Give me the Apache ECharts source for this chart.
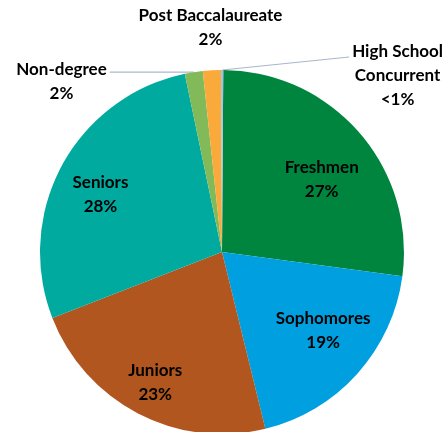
<!DOCTYPE html>
<html><head><meta charset="utf-8">
<script src="https://cdn.jsdelivr.net/npm/echarts@6/dist/echarts.min.js"></script>
<style>html,body{margin:0;padding:0;background:#fff}#c{width:445px;height:432px}</style>
</head><body><div id="c"></div>
<script>
const categories = ['Freshmen','Sophomores','Juniors','Seniors','Non-degree','Post Baccalaureate','High School Concurrent'];
const labelNames = ['Freshmen','Sophomores','Juniors','Seniors','Non-degree','Post Baccalaureate','High School\nConcurrent'];
const values = [27.1, 19.1, 23.0, 27.7, 1.6, 1.6, 0.2];
const colors = ['#00853F','#009FDF','#B0561E','#00AA9F','#82BA5A','#F9AA3B','#9DC3E6'];
const insideLabel = [true, true, true, true, false, false, false];

const FONT = 'Lato';
function pctText(p) { return p.percent < 1 ? '<1%' : Math.round(p.percent) + '%'; }
function fmt(p) { return labelNames[p.dataIndex] + '\n' + pctText(p); }

const textStyle = { fontFamily: FONT, fontWeight: 'bold', fontSize: 17, color: '#000', lineHeight: 24 };

// label placement tweaks (layout only)
const innerShift = { 0: [-3, 17], 1: [0, -12], 2: [-4, 10], 3: [-2, 7] };
const outerCfg = {
  4: { length: 0, length2: 84, spacer: 18, showLine: true },
  5: { length: 43, length2: 0, spacer: 0, showLine: false },
  6: { length: 13, length2: 127, spacer: 38, showLine: true }
};

const mainData = categories.map((c, i) => {
  const d = { name: c, value: values[i], itemStyle: { color: colors[i] } };
  if (!insideLabel[i]) {
    const o = outerCfg[i];
    d.label = Object.assign({
      show: true, position: 'outside', distanceToLabelLine: 3,
      formatter: function (p) {
        const lines = fmt(p).split('\n').map(s => '{t|' + s + '}');
        if (o.spacer) lines.unshift('{sp|  }');
        return lines.join('\n');
      },
      rich: {
        t: Object.assign({}, textStyle),
        sp: { fontSize: 1, lineHeight: o.spacer || 1 }
      }
    }, textStyle);
    d.labelLine = { show: o.showLine, length: o.length, length2: o.length2, smooth: false,
      lineStyle: { color: '#A9B7CB', width: 1.2 } };
  }
  return d;
});

const overlayData = categories.map((c, i) => ({
  name: c, value: values[i], itemStyle: { color: 'rgba(0,0,0,0)' },
  label: { show: insideLabel[i] }
}));

const chart = echarts.init(document.getElementById('c'), null, { renderer: 'canvas' });
chart.setOption({
  animation: false,
  backgroundColor: '#fff',
  series: [
    {
      type: 'pie', center: [222, 252], radius: 182, startAngle: 89.6, clockwise: true,
      avoidLabelOverlap: false, silent: true,
      itemStyle: { borderWidth: 0 },
      emphasis: { disabled: true },
      label: { show: false },
      labelLine: { show: false },
      data: mainData,
      labelLayout: function (params) {
        const p = params.labelLinePoints;
        if (params.dataIndex === 4 && p) {
          return { align: 'center', dx: -params.labelRect.width / 2, labelLinePoints: [p[0], p[1], p[2]] };
        }
        if (params.dataIndex === 5) return { align: 'center', dx: 4 };
        if (params.dataIndex === 6 && p) {
          return { align: 'center', dx: params.labelRect.width / 2, labelLinePoints: [p[0], p[2], p[2]] };
        }
        return {};
      }
    },
    {
      type: 'pie', center: [222, 252], radius: [84, 182], startAngle: 89.6, clockwise: true,
      avoidLabelOverlap: false, silent: true,
      itemStyle: { borderWidth: 0, color: 'rgba(0,0,0,0)' },
      emphasis: { disabled: true },
      labelLine: { show: false },
      label: Object.assign({ show: true, position: 'inside', formatter: fmt }, textStyle),
      data: overlayData,
      labelLayout: function (params) {
        const s = innerShift[params.dataIndex];
        return s ? { dx: s[0], dy: s[1] } : {};
      }
    }
  ]
});
</script>
</body></html>
